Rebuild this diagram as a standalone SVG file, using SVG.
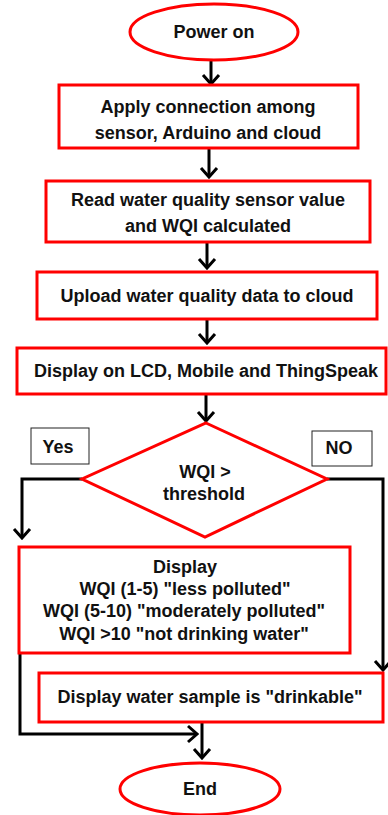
<svg xmlns="http://www.w3.org/2000/svg" width="388" height="815" viewBox="0 0 388 815">
<defs>
<style>
.t{font-family:"Liberation Sans",Arial,sans-serif;font-weight:bold;font-size:18px;fill:#111;text-anchor:middle}
.s{fill:#fff;stroke:#f00;stroke-width:3}
.lb{fill:#fff;stroke:#222;stroke-width:1}
.c{fill:none;stroke:#000;stroke-width:3;marker-end:url(#ah)}
</style>
<marker id="ah" markerUnits="userSpaceOnUse" viewBox="0 0 12 20" refX="10" refY="10" markerWidth="12" markerHeight="20" orient="auto">
<path d="M1,2 L10,10 L1,18" fill="none" stroke="#000" stroke-width="3"/>
</marker>
</defs>
<rect width="388" height="815" fill="#fff"/>
<g id="connectors">
<path class="c" d="M211,61 V84"/>
<path class="c" d="M209,148 V177"/>
<path class="c" d="M207,242 V268"/>
<path class="c" d="M207,319 V343"/>
<path class="c" d="M206,394 V421"/>
<path class="c" d="M82,479 H22 V538"/>
<path class="c" d="M327,479 H383 V670"/>
<path class="c" d="M20,653 V734 H197"/>
<path class="c" d="M202,722 V758"/>
</g>
<g id="start">
<ellipse class="s" cx="214" cy="32" rx="84" ry="28"/>
<text class="t" x="214" y="38">Power on</text>
</g>
<g id="connect">
<rect class="s" x="59" y="85" width="299" height="63"/>
<text class="t" x="208" y="113">Apply connection among</text>
<text class="t" x="208" y="139">sensor, Arduino and cloud</text>
</g>
<g id="read">
<rect class="s" x="46" y="181" width="324" height="61"/>
<text class="t" x="208" y="206">Read water quality sensor value</text>
<text class="t" x="208" y="232">and WQI calculated</text>
</g>
<g id="upload">
<rect class="s" x="37" y="272" width="340" height="47"/>
<text class="t" x="207" y="302">Upload water quality data to cloud</text>
</g>
<g id="displaylcd">
<rect class="s" x="17" y="348" width="369" height="46"/>
<text class="t" x="206" y="377">Display on LCD, Mobile and ThingSpeak</text>
</g>
<g id="decision">
<polygon class="s" points="206,423 327,479 205,537 82,479"/>
<text class="t" x="205" y="478">WQI &gt;</text>
<text class="t" x="204" y="500">threshold</text>
</g>
<g id="yes">
<rect class="lb" x="31" y="428" width="58" height="36"/>
<text class="t" x="58" y="453">Yes</text>
</g>
<g id="no">
<rect class="lb" x="312" y="431" width="60" height="35"/>
<text class="t" x="339" y="454">NO</text>
</g>
<g id="displaywqi">
<rect class="s" x="19" y="547" width="331" height="106"/>
<text class="t" x="185" y="573">Display</text>
<text class="t" x="185" y="595">WQI (1-5) "less polluted"</text>
<text class="t" x="184" y="617">WQI (5-10) "moderately polluted"</text>
<text class="t" x="184" y="640">WQI &gt;10 "not drinking water"</text>
</g>
<g id="drinkable">
<rect class="s" x="39" y="673" width="344" height="49"/>
<text class="t" x="210" y="703">Display water sample is "drinkable"</text>
</g>
<g id="end">
<ellipse class="s" cx="200" cy="789" rx="80" ry="26"/>
<text class="t" x="200" y="795">End</text>
</g>
</svg>
